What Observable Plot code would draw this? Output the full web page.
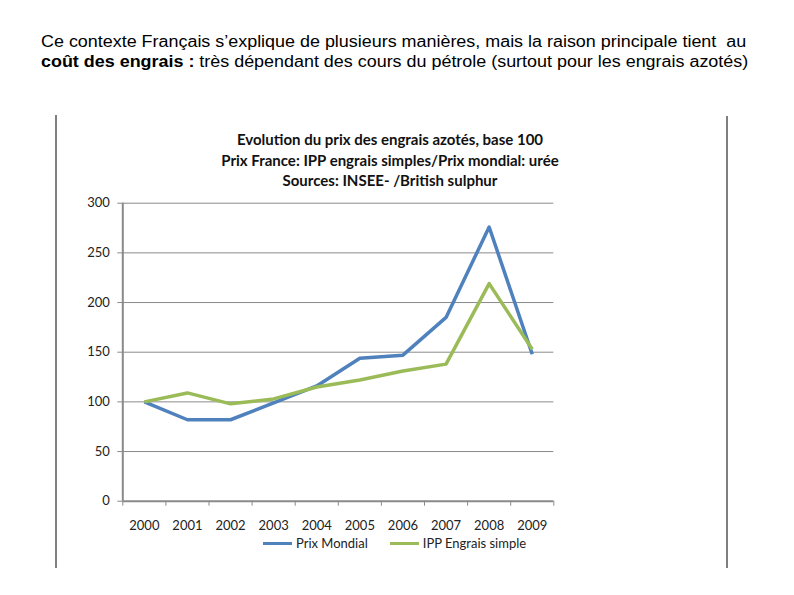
<!DOCTYPE html>
<html>
<head>
<meta charset="utf-8">
<script src="https://cdn.jsdelivr.net/npm/d3@7"></script>
<script src="https://cdn.jsdelivr.net/npm/@observablehq/plot@0.6"></script>
<style>
  html, body { margin: 0; padding: 0; background: #fff; }
  #page { position: relative; width: 794px; height: 595px; overflow: hidden; background: #fff; }
  #intro { position: absolute; left: 41px; top: 32px; font-family: "Liberation Sans", Arial, sans-serif; font-size: 16px; line-height: 20px; color: #000; white-space: nowrap; transform: scaleX(1.12); transform-origin: 0 0; }
  .border { position: absolute; width: 2px; background: #7f7f7f; }
  #ctitle { position: absolute; left: 190px; width: 400px; top: 129px; text-align: center; font-family: Lato, "Open Sans", sans-serif; font-weight: 700; font-size: 15px; line-height: 20.5px; color: #111; }
  #chart { position: absolute; left: 0; top: 100px; }
  #legend { position: absolute; top: 535px; left: 263px; font-family: Lato, "Open Sans", sans-serif; font-size: 13px; color: #222; display: flex; align-items: center; white-space: nowrap; }
  .sw { display: inline-block; width: 29px; height: 3px; margin-right: 4px; }
</style>
</head>
<body>
<div id="page">
  <div id="intro">Ce contexte Français s’explique de plusieurs manières, mais la raison principale tient&nbsp; au<br><b>coût des engrais :</b> très dépendant des cours du pétrole (surtout pour les engrais azotés)</div>
  <div class="border" style="left:55px; top:115px; height:453px;"></div>
  <div class="border" style="left:726px; top:116px; height:452px;"></div>
  <div id="chart"></div>
  <div id="ctitle">Evolution du prix des engrais azotés, base 100<br>Prix France: IPP engrais simples/Prix mondial: urée<br>Sources: INSEE- /British sulphur</div>
  <div id="legend"></div>
</div>
<script>
const years = [2000, 2001, 2002, 2003, 2004, 2005, 2006, 2007, 2008, 2009];
const prixMondial = [100, 82, 82, 99, 116, 144, 147, 185, 276, 148];
const ippEngrais = [100, 109, 98, 103, 115, 122, 131, 138, 219, 153];
const seriesNames = ["Prix Mondial", "IPP Engrais simple"];
const seriesColors = ["#4F81BD", "#9BBB59"];
const yTicks = [0, 50, 100, 150, 200, 250, 300];

const rows = [
  ...years.map((y, i) => ({year: y, value: prixMondial[i], series: seriesNames[0]})),
  ...years.map((y, i) => ({year: y, value: ippEngrais[i], series: seriesNames[1]}))
];
const boundaries = d3.range(years[0] - 0.5, years[years.length - 1] + 1, 1);

const chart = Plot.plot({
  width: 794,
  height: 470,
  marginTop: 102.7,
  marginBottom: 69.3,
  marginLeft: 122.3,
  marginRight: 240.7,
  style: {fontFamily: "Lato, 'Open Sans', sans-serif", fontSize: "13px", color: "#222", background: "transparent"},
  x: {type: "linear", domain: [years[0] - 0.5, years[years.length - 1] + 0.5]},
  y: {domain: [0, 300]},
  color: {domain: seriesNames, range: seriesColors},
  marks: [
    Plot.gridY(yTicks.filter(d => d > 0), {stroke: "#8a8a8a", strokeOpacity: 1, strokeWidth: 1}),
    Plot.axisY({ticks: yTicks, tickSize: 5, tickPadding: 8, stroke: "#8a8a8a", strokeOpacity: 1, label: null, fill: "#222"}),
    Plot.axisX({ticks: boundaries, tickSize: 5, tickFormat: () => "", stroke: "#8a8a8a", strokeOpacity: 1, label: null}),
    Plot.axisX(years, {tickSize: 0, tickPadding: 20, tickFormat: d => String(d), label: null, fill: "#222"}),
    Plot.ruleY([0], {stroke: "#8a8a8a", strokeWidth: 2}),
    Plot.ruleX([years[0] - 0.5], {stroke: "#8a8a8a", strokeWidth: 2}),
    Plot.line(rows, {x: "year", y: "value", z: "series", stroke: "series", strokeWidth: 3.5, strokeLinejoin: "round", strokeLinecap: "butt"})
  ]
});
document.getElementById("chart").appendChild(chart);

const legend = document.getElementById("legend");
seriesNames.forEach((name, i) => {
  const item = document.createElement("span");
  item.style.display = "inline-flex";
  item.style.alignItems = "center";
  item.style.marginRight = i === 0 ? "22px" : "0";
  const sw = document.createElement("span");
  sw.className = "sw";
  sw.style.background = seriesColors[i];
  item.appendChild(sw);
  item.appendChild(document.createTextNode(name));
  legend.appendChild(item);
});
</script>
</body>
</html>
